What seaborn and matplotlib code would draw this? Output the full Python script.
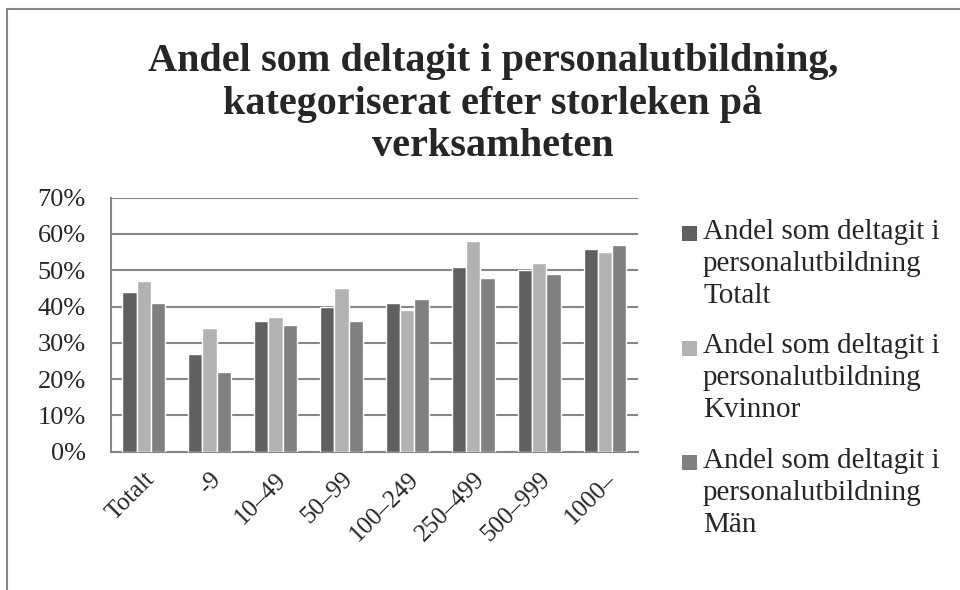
import pandas as pd
import matplotlib.pyplot as plt
import seaborn as sns
from matplotlib.lines import Line2D
from matplotlib.patches import Rectangle

# Data
kategorier = ['Totalt', '-9', '10\u201349', '50\u201399', '100\u2013249',
              '250\u2013499', '500\u2013999', '1000\u2013']
totalt = [44, 27, 36, 40, 41, 51, 50, 56]
kvinnor = [47, 34, 37, 45, 39, 58, 52, 55]
man = [41, 22, 35, 36, 42, 48, 49, 57]
serier = ['Andel som deltagit i\npersonalutbildning\nTotalt',
          'Andel som deltagit i\npersonalutbildning\nKvinnor',
          'Andel som deltagit i\npersonalutbildning\nMän']
farger = ['#606060', '#b2b2b2', '#808080']

df = pd.DataFrame({
    'kategori': kategorier * 3,
    'serie': [serier[0]] * 8 + [serier[1]] * 8 + [serier[2]] * 8,
    'varde': totalt + kvinnor + man,
})

sns.set_style('white')
plt.rcParams['font.family'] = ['Liberation Serif', 'DejaVu Serif']

fig = plt.figure(figsize=(9.6, 5.9), dpi=100)
ax = fig.add_axes([0.1153, 0.2344, 0.5493, 0.4305])

sns.barplot(data=df, x='kategori', y='varde', hue='serie', palette=farger,
            width=0.65, saturation=1, ax=ax, legend=False, zorder=3)

ax.set_ylim(0, 70)
ax.set_xlim(-0.5, 7.5)
ax.set_yticks(range(0, 71, 10))
ax.set_yticklabels([f'{v}%' for v in range(0, 71, 10)], fontsize=19)
ax.set_xticks(range(len(kategorier)))
ax.set_xticklabels(kategorier, rotation=45, ha='right', rotation_mode='anchor',
                   fontsize=18)
ax.tick_params(axis='y', length=0, pad=18)
ax.tick_params(axis='x', length=0, pad=12)
ax.set_xlabel('')
ax.set_ylabel('')
ax.yaxis.grid(True, color='#868686', linewidth=1.5, zorder=0)
ax.set_axisbelow(True)
for side in ['top', 'right']:
    ax.spines[side].set_visible(False)
for side in ['left', 'bottom']:
    ax.spines[side].set_color('#868686')
    ax.spines[side].set_linewidth(1.5)

# Legend, drawn by hand so the square sits on the first text line
for i, (namn, farg) in enumerate(zip(serier, farger)):
    yc = 1 - (234 + i * 114.3) / 590
    fig.add_artist(Rectangle((681.7 / 960, yc - 7.5 / 590), 15 / 960, 15 / 590,
                             facecolor=farg, edgecolor='none',
                             transform=fig.transFigure))
    fig.text(703 / 960, yc + 15 / 590, namn, ha='left', va='top',
             fontsize=21, linespacing=1.3)

fig.text(0.5135, 0.824,
         'Andel som deltagit i personalutbildning,\nkategoriserat efter storleken på\nverksamheten',
         ha='center', va='center', fontsize=29, fontweight='bold', linespacing=1.18)

# Outer frame (left and top)
fig.add_artist(Line2D([0.007, 0.007], [0, 0.985], color='#868686', linewidth=1.5))
fig.add_artist(Line2D([0.007, 1.0], [0.985, 0.985], color='#868686', linewidth=1.5))

fig.savefig('out.png', dpi=100)
